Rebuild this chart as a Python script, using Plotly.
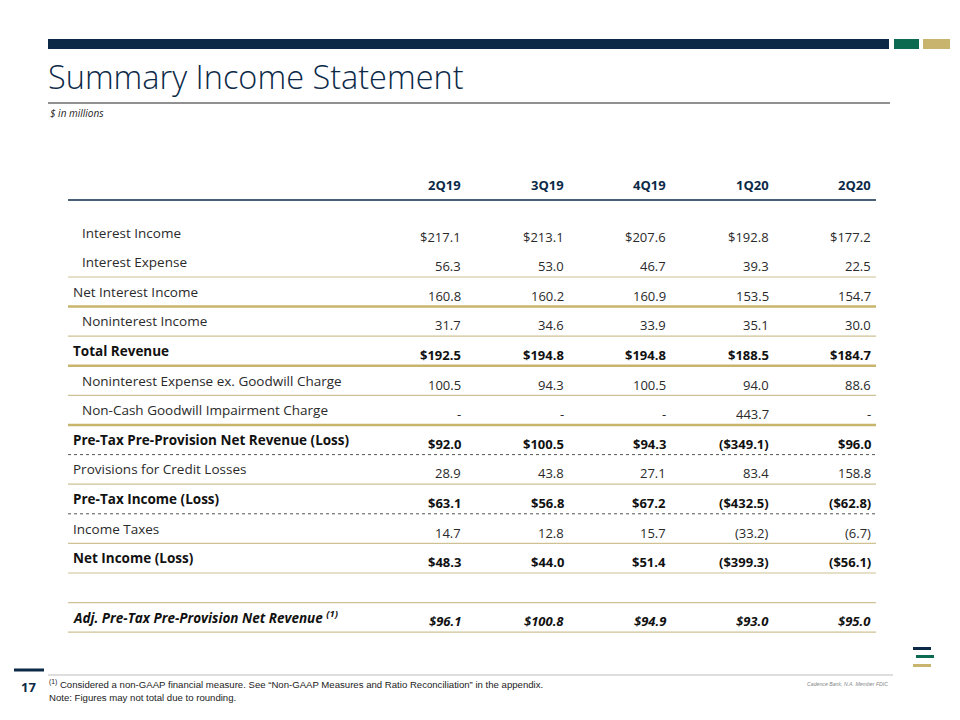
import plotly.graph_objects as go

# ---------------- data ----------------
quarters = ["2Q19", "3Q19", "4Q19", "1Q20", "2Q20"]

row_labels = [
    "Interest Income",
    "Interest Expense",
    "Net Interest Income",
    "Noninterest Income",
    "Total Revenue",
    "Noninterest Expense ex. Goodwill Charge",
    "Non-Cash Goodwill Impairment Charge",
    "Pre-Tax Pre-Provision Net Revenue (Loss)",
    "Provisions for Credit Losses",
    "Pre-Tax Income (Loss)",
    "Income Taxes",
    "Net Income (Loss)",
    "",
    "Adj. Pre-Tax Pre-Provision Net Revenue",
]

interest_income = [217.1, 213.1, 207.6, 192.8, 177.2]
interest_expense = [56.3, 53.0, 46.7, 39.3, 22.5]
net_interest_income = [160.8, 160.2, 160.9, 153.5, 154.7]
noninterest_income = [31.7, 34.6, 33.9, 35.1, 30.0]
total_revenue = [192.5, 194.8, 194.8, 188.5, 184.7]
noninterest_expense = [100.5, 94.3, 100.5, 94.0, 88.6]
goodwill_charge = [None, None, None, 443.7, None]
pre_tax_ppnr = [92.0, 100.5, 94.3, -349.1, 96.0]
provisions = [28.9, 43.8, 27.1, 83.4, 158.8]
pre_tax_income = [63.1, 56.8, 67.2, -432.5, -62.8]
income_taxes = [14.7, 12.8, 15.7, -33.2, -6.7]
net_income = [48.3, 44.0, 51.4, -399.3, -56.1]
blank_row = [None] * 5
adj_ppnr = [96.1, 100.8, 94.9, 93.0, 95.0]

row_values = [interest_income, interest_expense, net_interest_income,
              noninterest_income, total_revenue, noninterest_expense,
              goodwill_charge, pre_tax_ppnr, provisions, pre_tax_income,
              income_taxes, net_income, blank_row, adj_ppnr]

# row styles: indent, dollar sign, bold, italic
indented = [True, True, False, True, False, True, True, False, False, False, False, False, False, False]
dollar_rows = [True, False, False, False, True, False, False, True, False, True, False, True, False, True]
bold_rows = [False, False, False, False, True, False, False, True, False, True, False, True, False, True]
italic_rows = [False] * 13 + [True]
blank_rows = [False] * 12 + [True, False]

# separators drawn below row index: style
separators = [(1, "thin"), (2, "thick"), (3, "thin"), (4, "thick"), (5, "thin"),
              (6, "thick"), (7, "dot"), (8, "thin"), (9, "dot"), (10, "thin"),
              (11, "thin"), (12, "thin"), (13, "thin")]

footnote_1 = "<sup>(1)</sup> Considered a non-GAAP financial measure. See \u201cNon-GAAP Measures and Ratio Reconciliation\u201d in the appendix."
footnote_2 = "Note: Figures may not total due to rounding."

# ---------------- styling ----------------
# The page body has an 8px margin, so the figure is drawn 8px in from the
# window's corner; positions below are window pixels and are shifted.
OFF = 8
W, H = 960 - OFF, 720 - OFF
NAVY = "#0c2a48"
GREEN = "#0b6a50"
GOLD = "#c8b46c"
LINE_GOLD = "#cfc194"
TEXT = "#2a2a2a"
FONT = "Open Sans, Noto Sans, sans-serif"
NARROW = "Liberation Sans Narrow, Liberation Sans, Arial, sans-serif"


def px(x):
    return (x - OFF) / W


def py(y):
    return 1 - (y - OFF) / H


def fmt(v, dollar):
    if v is None:
        return "-"
    s = f"{abs(v):.1f}"
    if dollar:
        s = "$" + s
    if v < 0:
        s = "(" + s + ")"
    return s


# axis mapping: column j -> window pixel 463 + 102.5 j ; row i -> 232.6 + 29.6 i
COL0, COLW = 463.0, 102.5
ROW0, ROWH = 232.6, 29.6
x_range = [(OFF - COL0) / COLW, (960 - COL0) / COLW]
y_range = [(720 - ROW0) / ROWH, (OFF - ROW0) / ROWH]

fig = go.Figure()
fig.add_trace(go.Scatter(x=[0], y=[0], mode="markers", marker=dict(opacity=0),
                         hoverinfo="skip", showlegend=False))

annotations = []
shapes = []

# header
for j, q in enumerate(quarters):
    annotations.append(dict(x=j, y=(185 - ROW0) / ROWH, xref="x", yref="y", text=q,
                            showarrow=False, xanchor="right", yanchor="middle",
                            font=dict(family=FONT, size=13, color=NAVY, weight="bold")))
shapes.append(dict(type="line", xref="paper", yref="y", x0=px(68), x1=px(876),
                   y0=(200 - ROW0) / ROWH, y1=(200 - ROW0) / ROWH,
                   line=dict(color=NAVY, width=1.5)))

# rows
for i, (lab, vals) in enumerate(zip(row_labels, row_values)):
    if blank_rows[i]:
        continue
    weight = "bold" if bold_rows[i] else "normal"
    style = "italic" if italic_rows[i] else "normal"
    color = "#111111" if bold_rows[i] else TEXT
    ltxt = lab + (" <sup>(1)</sup>" if italic_rows[i] else "")
    annotations.append(dict(x=px(80 if indented[i] else 71), y=i, xref="paper", yref="y",
                            text=ltxt, showarrow=False, xanchor="left", yanchor="middle",
                            font=dict(family=FONT, size=13.5, color=color, weight=weight, style=style)))
    for j, v in enumerate(vals):
        annotations.append(dict(x=j, y=i, xref="x", yref="y", yshift=-4,
                                text=fmt(v, dollar_rows[i]), showarrow=False,
                                xanchor="right", yanchor="middle",
                                font=dict(family=FONT, size=13, color=color, weight=weight, style=style)))

for idx, kind in separators:
    yv = idx + 0.5
    if kind == "dot":
        line = dict(color="#555555", width=1, dash="dot")
    elif kind == "thick":
        line = dict(color=GOLD, width=2.5)
    else:
        line = dict(color=LINE_GOLD, width=1.2)
    shapes.append(dict(type="line", xref="paper", yref="y", x0=px(68), x1=px(876),
                       y0=yv, y1=yv, line=line))

# ---------------- slide chrome ----------------
def rect(x0, y0, x1, y1, color):
    shapes.append(dict(type="rect", xref="paper", yref="paper", x0=px(x0), x1=px(x1),
                       y0=py(y1), y1=py(y0), fillcolor=color, line=dict(width=0)))


def hline(x0, x1, y, color, width):
    shapes.append(dict(type="line", xref="paper", yref="paper", x0=px(x0), x1=px(x1),
                       y0=py(y), y1=py(y), line=dict(color=color, width=width)))


rect(48, 39, 889, 49, NAVY)
rect(894, 39, 919, 49, GREEN)
rect(923, 39, 950, 49, GOLD)
hline(48, 890, 103, "#222222", 1)

# footer
hline(14, 44, 670, NAVY, 3)
hline(48, 893, 675, "#bdbdbd", 1)
rect(913, 647, 931, 650, NAVY)
rect(916, 655, 934, 658, GREEN)
rect(913, 664, 931, 667, GOLD)

annotations += [
    dict(x=px(46), y=py(76), xref="paper", yref="paper", text="Summary Income Statement",
         showarrow=False, xanchor="left", yanchor="middle",
         font=dict(family=FONT, size=32.5, color=NAVY, weight=300)),
    dict(x=px(48), y=py(113), xref="paper", yref="paper", text="$ in millions",
         showarrow=False, xanchor="left", yanchor="middle",
         font=dict(family=FONT, size=10, color="#222222", style="italic")),
    dict(x=px(28), y=py(687), xref="paper", yref="paper", text="17",
         showarrow=False, xanchor="center", yanchor="middle",
         font=dict(family=FONT, size=13, color=NAVY, weight="bold")),
    dict(x=px(47), y=py(684), xref="paper", yref="paper", text=footnote_1,
         showarrow=False, xanchor="left", yanchor="middle",
         font=dict(family=NARROW, size=9.6, color="#222222")),
    dict(x=px(47), y=py(697), xref="paper", yref="paper", text=footnote_2,
         showarrow=False, xanchor="left", yanchor="middle",
         font=dict(family=NARROW, size=9.6, color="#222222")),
    dict(x=px(890), y=py(684), xref="paper", yref="paper", text="Cadence Bank, N.A. Member FDIC",
         showarrow=False, xanchor="right", yanchor="middle",
         font=dict(family=NARROW, size=5.2, color="#888888", style="italic")),
]

fig.update_layout(
    width=W, height=H, margin=dict(l=0, r=0, t=0, b=0),
    paper_bgcolor="white", plot_bgcolor="white",
    xaxis=dict(range=x_range, visible=False, fixedrange=True),
    yaxis=dict(range=y_range, visible=False, fixedrange=True),
    showlegend=False, annotations=annotations, shapes=shapes,
)

fig.write_html("out.html")
